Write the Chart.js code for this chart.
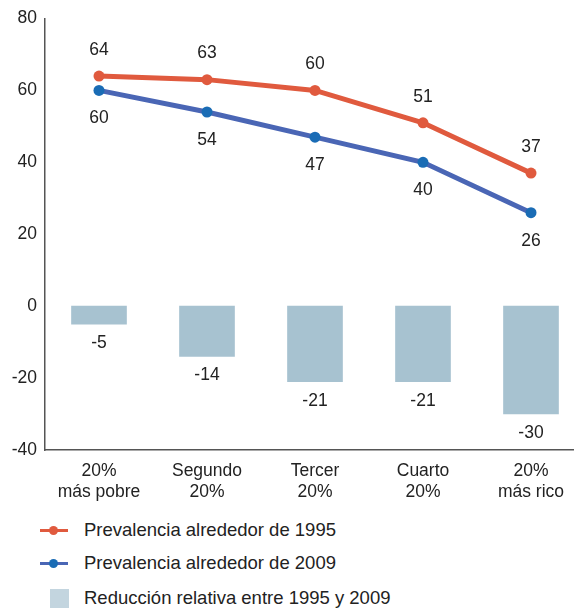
<!DOCTYPE html>
<html>
<head>
<meta charset="utf-8">
<script src="https://cdn.jsdelivr.net/npm/chart.js@4"></script>
<style>
html,body{margin:0;padding:0;background:#fff;overflow:hidden;width:574px;height:610px;}
#wrap{position:absolute;left:0;top:0;width:600px;height:514px;}
.leg{position:absolute;left:0;font-family:"Liberation Sans",Arial,sans-serif;font-size:18.5px;color:#222;}
.leg span.t{position:absolute;left:84px;top:-12px;white-space:nowrap;}
.ln{position:absolute;left:40px;top:-2px;width:28px;height:3px;}
.dt{position:absolute;left:49px;top:-5px;width:9px;height:9px;border-radius:50%;}
.sq{position:absolute;left:50px;top:-10px;width:19px;height:19px;background:#c3d5df;}
</style>
</head>
<body>
<div id="wrap"><canvas id="c" width="600" height="514"></canvas></div>
<div class="leg" style="top:531px"><div class="ln" style="background:#e05a3e"></div><div class="dt" style="background:#e05a3e"></div><span class="t">Prevalencia alrededor de 1995</span></div>
<div class="leg" style="top:564px"><div class="ln" style="background:#4a66b5"></div><div class="dt" style="background:#1a6cb5"></div><span class="t">Prevalencia alrededor de 2009</span></div>
<div class="leg" style="top:599px"><div class="sq"></div><span class="t">Reducción relativa entre 1995 y 2009</span></div>
<script>
const categories = [["20%","más pobre"],["Segundo","20%"],["Tercer","20%"],["Cuarto","20%"],["20%","más rico"]];
const prev1995 = [64, 63, 60, 51, 37];
const prev2009 = [60, 54, 47, 40, 26];
const reduccion = [-5, -14, -21, -21, -30];
const yTicks = [-40, -20, 0, 20, 40, 60, 80];

const FONT = '"Liberation Sans", Arial, sans-serif';

const labelPlugin = {
  id: 'valLabels',
  afterDatasetsDraw(chart) {
    const ctx = chart.ctx;
    ctx.save();
    ctx.font = '17.5px ' + FONT;
    ctx.fillStyle = '#222';
    ctx.textAlign = 'center';
    ctx.textBaseline = 'middle';
    chart.data.datasets.forEach((ds, di) => {
      const meta = chart.getDatasetMeta(di);
      meta.data.forEach((el, i) => {
        const v = ds.data[i];
        let y;
        if (ds.type === 'bar') y = el.y + 19;
        else if (di === 0) y = el.y - 26;
        else y = el.y + 28;
        ctx.fillText(String(v), el.x, y);
      });
    });
    ctx.restore();
  }
};

new Chart(document.getElementById('c'), {
  type: 'bar',
  data: {
    labels: categories,
    datasets: [
      { type: 'line', label: 'Prevalencia alrededor de 1995', data: prev1995,
        borderColor: '#e05a3e', backgroundColor: '#e05a3e', pointBackgroundColor: '#e05a3e',
        pointBorderWidth: 0, pointRadius: 5.5, borderWidth: 5, order: 1 },
      { type: 'line', label: 'Prevalencia alrededor de 2009', data: prev2009,
        borderColor: '#4a66b5', backgroundColor: '#1a6cb5', pointBackgroundColor: '#1a6cb5',
        pointBorderWidth: 0, pointRadius: 5.5, borderWidth: 5, order: 2 },
      { type: 'bar', label: 'Reducción relativa entre 1995 y 2009', data: reduccion,
        backgroundColor: '#a7c2d0', barThickness: 55, order: 3 }
    ]
  },
  options: {
    responsive: false,
    animation: false,
    layout: { padding: { top: 10, right: 15, left: 0, bottom: 0 } },
    plugins: { legend: { display: false }, tooltip: { enabled: false } },
    scales: {
      x: {
        offset: true,
        grid: { display: false, drawTicks: false },
        border: { display: true, color: '#555', width: 1.5 },
        ticks: { color: '#222', font: { size: 17.5, family: FONT }, padding: 11, maxRotation: 0, autoSkip: false }
      },
      y: {
        min: -40, max: 80,
        afterBuildTicks(s) { s.ticks = yTicks.map(v => ({ value: v })); },
        afterFit(s) { s.width = 45; },
        grid: { display: false, drawTicks: false },
        border: { display: true, color: '#555', width: 1.5 },
        ticks: { color: '#222', font: { size: 17.5, family: FONT }, padding: 8 }
      }
    }
  },
  plugins: [labelPlugin]
});
</script>
</body>
</html>
